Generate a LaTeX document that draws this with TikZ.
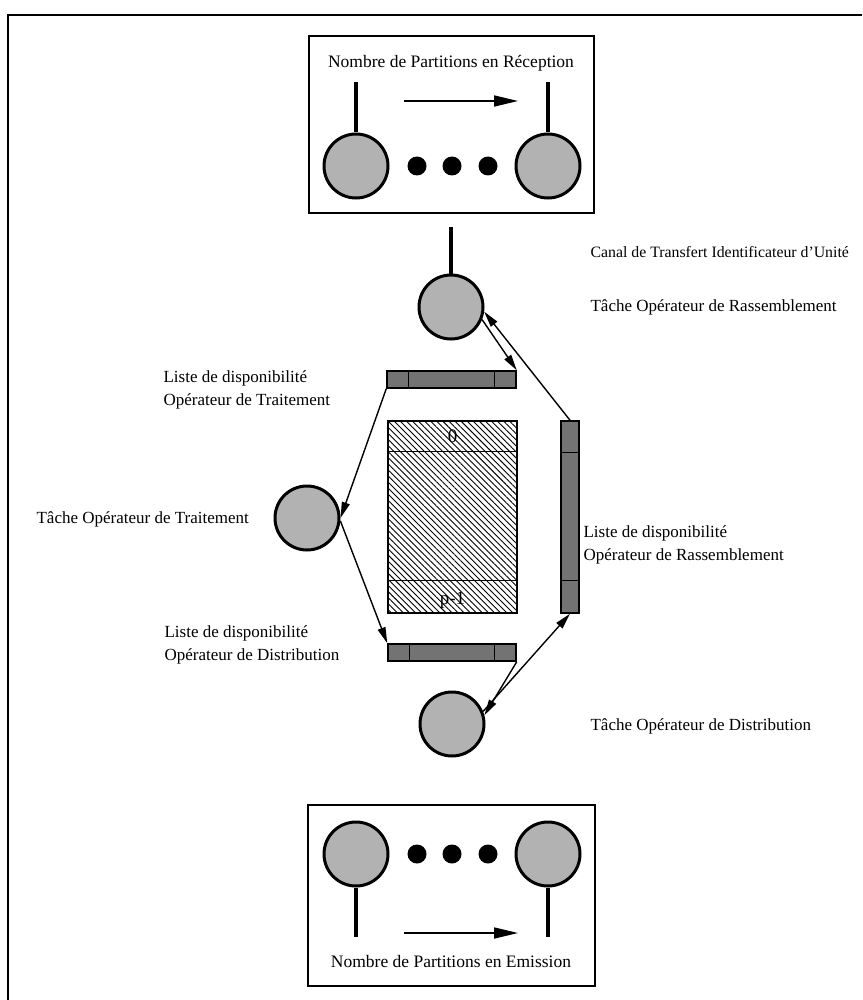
\documentclass[tikz,border=0pt]{standalone}
\usepackage{fontspec}
\setmainfont{Liberation Serif}
\usetikzlibrary{arrows.meta, calc, patterns.meta}

\begin{document}
\begin{tikzpicture}[x=1pt, y=-1pt, >={Triangle[length=16pt, width=8pt]}, line width=1.2pt,
  font=\fontsize{17.5}{23}\selectfont,
  task/.style={circle, draw, line width=3pt, fill=black!30, minimum size=64pt, inner sep=0pt},
  listbar/.style={draw, line width=1.5pt, fill=black!55, inner sep=0pt},
  stem/.style={line width=3.3pt},
  flow/.style={->, line width=1.4pt},
  boxarrow/.style={-{Triangle[length=24pt, width=11pt]}, line width=1.7pt},
  lbl/.style={anchor=west, align=left, inner sep=0pt, font=\fontsize{17}{23}\selectfont}]
  \useasboundingbox (0,0) rectangle (862,1000);
  \draw[line width=2pt] (8,1000) -- (8,15) -- (862,15);
  % partitions en reception
  \draw[line width=1.7pt] (309,36) rectangle (594,213);
  \node (titrerec) at (451,63) {Nombre de Partitions en Réception};
  \node[task] (recA) at (356,166) {};
  \node[task] (recB) at (548,166) {};
  \draw[stem] (recA.north) -- ++(0,-50);
  \draw[stem] (recB.north) -- ++(0,-50);
  \foreach \x in {417,452,488} \fill (\x,166) circle (9.5pt);
  \draw[boxarrow] (404,101) -- (518,101);
  % taches et listes
  \node[task] (rass) at (451,307) {};
  \draw[stem] (rass.north) -- ++(0,-46);
  \node[task] (trt) at (307,518) {};
  \node[task] (dist) at (452,724) {};
  \node[listbar, minimum width=129pt, minimum height=17pt] (trtlist) at (451.5,379.5) {};
  \foreach \d in {22,108}
    \draw[line width=1pt] ([xshift=\d pt]trtlist.north west) -- ([xshift=\d pt]trtlist.south west);
  \node[listbar, minimum width=128pt, minimum height=17pt] (distlist) at (452,652.5) {};
  \foreach \d in {22,107}
    \draw[line width=1pt] ([xshift=\d pt]distlist.north west) -- ([xshift=\d pt]distlist.south west);
  \node[listbar, minimum width=18pt, minimum height=192pt] (rasslist) at (570,517) {};
  \draw[line width=1pt] ([yshift=-32pt]rasslist.north west) -- ([yshift=-32pt]rasslist.north east);
  \draw[line width=1pt] ([yshift=33pt]rasslist.south west) -- ([yshift=33pt]rasslist.south east);
  % memoire
  \node[draw, line width=1.8pt, minimum width=129pt, minimum height=192pt, inner sep=0pt,
    pattern={Lines[angle=-45, distance=4.3pt, line width=0.9pt]}] (mem) at (452.5,517) {};
  \draw[line width=1.5pt] ([yshift=-31pt]mem.north west) -- ([yshift=-31pt]mem.north east);
  \draw[line width=1.5pt] ([yshift=33pt]mem.south west) -- ([yshift=33pt]mem.south east);
  \node[font=\fontsize{19}{23}\selectfont] (premier) at ($(mem.north)+(0,16)$) {0};
  \node[font=\fontsize{19}{23}\selectfont] (dernier) at ($(mem.south)+(0,-13)$) {p-1};
  % fleches
  \draw[flow] (rass.-22) -- (trtlist.north east);
  \draw[flow] (rasslist.north) -- (rass.-8);
  \draw[flow] (trtlist.south west) -- (trt.east);
  \draw[flow] (trt.-5) -- (distlist.north west);
  \draw[flow] (distlist.south east) -- (dist.15);
  \draw[flow] (dist.22) -- (rasslist.south);
  % textes
  \node[lbl, font=\fontsize{15.8}{23}\selectfont] (canal) at (590,252) {Canal de Transfert Identificateur d’Unité};
  \node[lbl] (rasslbl) at (590,307) {Tâche Opérateur de Rassemblement};
  \node[lbl] (trtlistlbl) at (163,390) {Liste de disponibilité\\Opérateur de Traitement};
  \node[lbl] (trtlbl) at (36,519) {Tâche Opérateur de Traitement};
  \node[lbl] (rasslistlbl) at (583,545) {Liste de disponibilité\\Opérateur de Rassemblement};
  \node[lbl] (distlistlbl) at (164,645) {Liste de disponibilité\\Opérateur de Distribution};
  \node[lbl] (distlbl) at (590,726) {Tâche Opérateur de Distribution};
  % partitions en emission
  \draw[line width=1.7pt] (308,805) rectangle (595,986);
  \node[task] (emA) at (356,854) {};
  \node[task] (emB) at (548,854) {};
  \draw[stem] (emA.south) -- ++(0,49);
  \draw[stem] (emB.south) -- ++(0,49);
  \foreach \x in {417,452,488} \fill (\x,854) circle (9.5pt);
  \draw[boxarrow] (404,933) -- (518,933);
  \node (titreem) at (451,962) {Nombre de Partitions en Emission};
\end{tikzpicture}
\end{document}
